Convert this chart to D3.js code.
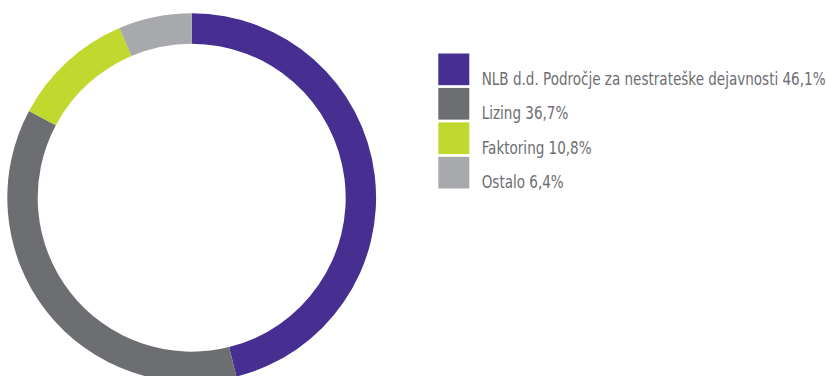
<!DOCTYPE html>
<html>
<head>
<meta charset="utf-8">
<script src="https://cdn.jsdelivr.net/npm/d3@7"></script>
<style>
  html, body { margin: 0; padding: 0; background: #fff; }
  svg { display: block; }
</style>
</head>
<body>
<svg id="chart" width="827" height="376"></svg>
<script>
// Segment structure (shares in %)
const categories = ["NLB d.d. Področje za nestrateške dejavnosti", "Lizing", "Faktoring", "Ostalo"];
const values = [46.1, 36.7, 10.8, 6.4];
const valueLabels = ["46,1%", "36,7%", "10,8%", "6,4%"];
const colors = ["#472f91", "#6d6e71", "#c1d82f", "#a7a9ac"];

const svg = d3.select("#chart");

const cx = 191.7, cy = 197.7;
const outerR = 184.4, innerR = 154;

const pie = d3.pie().sort(null).value(d => d);
const arc = d3.arc().innerRadius(innerR).outerRadius(outerR);

const color = d3.scaleOrdinal().domain(categories).range(colors);

svg.append("g")
  .attr("transform", `translate(${cx},${cy})`)
  .selectAll("path")
  .data(pie(values))
  .join("path")
  .attr("d", arc)
  .attr("fill", (d, i) => color(categories[i]));

// Legend
const legendY = d3.scaleBand().domain(categories).range([53.5, 188.5]).paddingInner(0.08).paddingOuter(0);

const legend = svg.append("g").attr("transform", "translate(438.3,0)");
const items = legend.selectAll("g")
  .data(categories)
  .join("g")
  .attr("transform", d => `translate(0,${legendY(d)})`);

items.append("rect")
  .attr("width", 31)
  .attr("height", legendY.bandwidth())
  .attr("fill", d => color(d));

// Condensed label type: horizontally narrowed sans
items.append("text")
  .attr("transform", `translate(43.4,${legendY.bandwidth() - 0.5}) scale(0.86,1)`)
  .attr("fill", "#6d6e71")
  .style("font-family", "'DejaVu Sans Condensed', 'DejaVu Sans', sans-serif")
  .style("font-size", "17.5px")
  .text((d, i) => `${d} ${valueLabels[i]}`);
</script>
</body>
</html>
